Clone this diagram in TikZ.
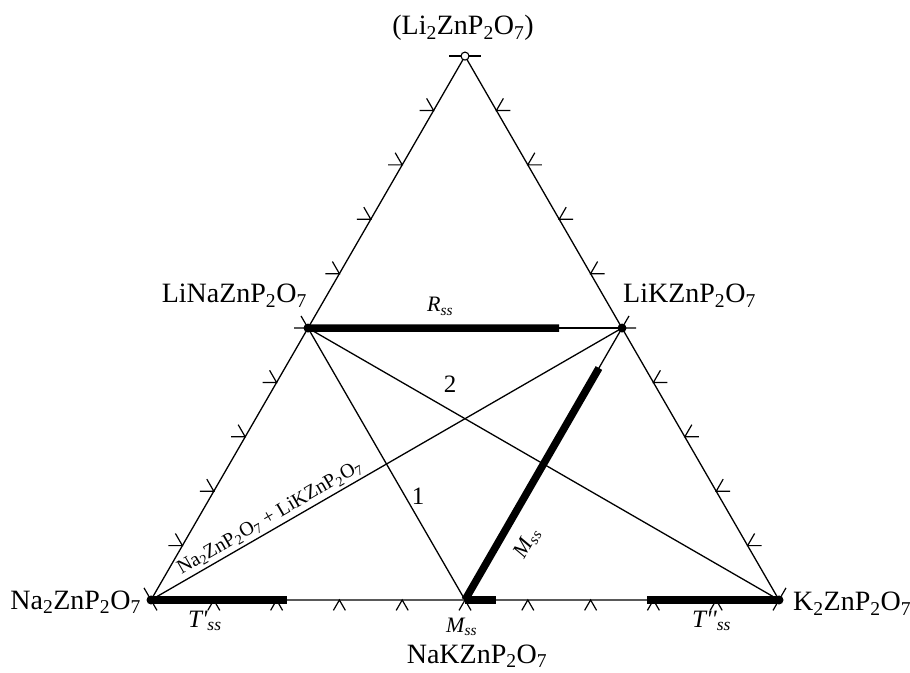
\documentclass[tikz,border=0pt]{standalone}
\usepackage{fontspec}
\setmainfont{Liberation Serif}
\usetikzlibrary{calc}
\begin{document}
\begin{tikzpicture}[x=1pt,y=1pt,
  thinline/.style={line width=1.3pt},
  thickbar/.style={line width=7.5pt,line cap=butt},
  tickmark/.style={line width=1.2pt},
  lab/.style={inner sep=0pt,font=\fontsize{28}{30}\selectfont},
  ital/.style={inner sep=0pt,font=\fontsize{25}{27}\selectfont\itshape},
  itals/.style={inner sep=0pt,font=\fontsize{22}{24}\selectfont\itshape},
  num/.style={inner sep=0pt,font=\fontsize{25}{27}\selectfont},
  small/.style={inner sep=3pt,font=\fontsize{20}{22}\selectfont}]
\useasboundingbox (0,0) rectangle (910,672);
% vertices
\coordinate (A) at (151,72);
\coordinate (B) at (779,72);
\coordinate (T) at (465,615.9);
\coordinate (LiNa) at ($(A)!0.5!(T)$);
\coordinate (LiK) at ($(B)!0.5!(T)$);
\coordinate (NaK) at ($(A)!0.5!(B)$);
% triangle
\draw[thinline] (A) -- (B) -- (T) -- cycle;
% ticks
\foreach \i in {1,...,9}{
  \draw[tickmark] ($(A)!\i/10!(T)$) ++(180:14) -- ++(0:14) -- ++(120:14);
  \draw[tickmark] ($(B)!\i/10!(T)$) ++(0:14) -- ++(180:14) -- ++(60:14);
  \draw[tickmark] ($(A)!\i/10!(B)$) ++(240:12) -- ++(60:12) -- ++(300:12);
}
\draw[tickmark] (A) -- ++(300:12);
\draw[tickmark] (A) -- ++(120:14);
\draw[tickmark] (B) -- ++(240:12);
\draw[tickmark] (B) -- ++(60:14);
\draw[tickmark] (T) ++(-16,0) -- ++(32,0);
% joins
\draw[thinline] (LiNa) -- (LiK);
\draw[thinline] (LiNa) -- (NaK) node[pos=0.62,right=6pt,num] (n1) {1};
\draw[thinline] (LiNa) -- (B);
\draw[thinline] (LiK) -- (A) node[pos=0.735,sloped,above,small] (nl) {Na\textsubscript{2}ZnP\textsubscript{2}O\textsubscript{7} + LiKZnP\textsubscript{2}O\textsubscript{7}};
\draw[thinline] (NaK) -- (LiK);
% thick solid-solution bars
\coordinate (Rend) at ($(LiNa)!0.8!(LiK)$);
\coordinate (Tpend) at ($(A)!0.217!(B)$);
\coordinate (Mbend) at ($(NaK)!0.1!(B)$);
\coordinate (Tppst) at ($(A)!0.79!(B)$);
\coordinate (Mdend) at ($(NaK)!0.853!(LiK)$);
\draw[thickbar] (LiNa) -- (Rend);
\draw[thickbar] (A) -- (Tpend);
\draw[thickbar] (NaK) -- (Mbend);
\draw[thickbar] (Tppst) -- (B);
\draw[thickbar] (NaK) -- (Mdend) node[pos=0.3,sloped,below=13pt,itals] (mdl) {M\textsubscript{ss}};
% dots
\fill (LiNa) circle (4.5);
\fill (LiK) circle (4.5);
\fill (A) circle (4.5);
\fill (B) circle (4.5);
\draw[line width=1.1pt,fill=white] (T) circle (4);
% labels
\node[num] (n2) at (450,288) {2};
\node[lab,anchor=base] (lt) at (463,637) {(Li\textsubscript{2}ZnP\textsubscript{2}O\textsubscript{7})};
\node[lab,anchor=base east] (lln) at (307,369) {LiNaZnP\textsubscript{2}O\textsubscript{7}};
\node[lab,anchor=base west] (llk) at (623,369) {LiKZnP\textsubscript{2}O\textsubscript{7}};
\node[lab,anchor=base east] (lna) at (141,63) {Na\textsubscript{2}ZnP\textsubscript{2}O\textsubscript{7}};
\node[lab,anchor=base west] (lk) at (793,61) {K\textsubscript{2}ZnP\textsubscript{2}O\textsubscript{7}};
\node[lab,anchor=base] (lnak) at (477,9) {NaKZnP\textsubscript{2}O\textsubscript{7}};
\node[itals,anchor=base west] (lr) at (427,360) {R\textsubscript{ss}};
\node[itals,anchor=base west] (lm) at (446,40) {M\textsubscript{ss}};
\node[ital,anchor=base west] (ltp) at (188,45) {T\textquotesingle\textsubscript{ss}};
\node[ital,anchor=base west] (ltpp) at (692,45) {T\textquotesingle\textquotesingle\textsubscript{ss}};
\end{tikzpicture}
\end{document}
